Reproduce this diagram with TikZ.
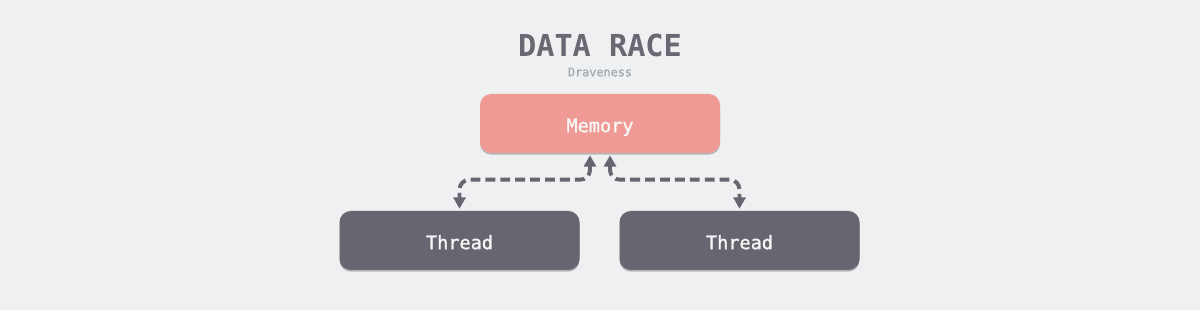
\documentclass[tikz,border=0pt]{standalone}
\usepackage{fontspec}
\setmonofont{DejaVu Sans Mono}
\newfontfamily\medmono{DejaVu Sans Mono}[FakeBold=1.3]
\usepackage{tikz}
\usetikzlibrary{arrows.meta,positioning,shadows}
\usepackage{xcolor}
\definecolor{bgray}{HTML}{EFF0F2}
\definecolor{memred}{HTML}{F09A96}
\definecolor{thrgray}{HTML}{686571}
\definecolor{titlegray}{HTML}{6A6872}
\definecolor{subgray}{HTML}{A3AAB0}
\definecolor{boxtext}{HTML}{F7F7F7}

\begin{document}
\begin{tikzpicture}[every node/.style={font=\ttfamily},
  box/.style={rounded corners=8pt, minimum width=6cm, minimum height=1.475cm,
    text=boxtext, font=\medmono\fontsize{13.2}{15}\selectfont,
    text height=12.3pt, text depth=0pt,
    drop shadow={shadow xshift=0pt, shadow yshift=-1.2pt, opacity=0.35, fill=black!70}},
  link/.style={thrgray, line width=2.8pt, dash pattern=on 7pt off 3.6pt,
    rounded corners=7pt, {Triangle[length=8pt,width=8.5pt]}-{Triangle[length=8pt,width=8.5pt]}}]
  \def\W{30}
  \def\H{7.75}

  % BACKGROUND
  \fill[bgray] (0,0) rectangle (\W,\H);
  \useasboundingbox (0,0) rectangle (\W,\H);

  % TITLE
  \node[titlegray, font=\ttfamily\bfseries\fontsize{21.5}{24}\selectfont] (title) at (15, 6.6) {DATA RACE};
  \node[subgray, font=\medmono\fontsize{8.4}{10}\selectfont] (author) at (15, 5.95) {Draveness};

  % BOXES
  \node[box, fill=memred] (mem) at (15, 4.6625) {Memory};
  \node[box, fill=thrgray] (t1) at (11.4875, 1.7375) {Thread};
  \node[box, fill=thrgray] (t2) at (18.4875, 1.7375) {Thread};

  % ACCESS ARROWS
  \draw[link] ([xshift=-0.25cm, yshift=-0.05cm]mem.south) |- ([yshift=0.775cm]t1.north) -- ([yshift=0.05cm]t1.north);
  \draw[link] ([xshift=0.25cm, yshift=-0.05cm]mem.south) |- ([yshift=0.775cm]t2.north) -- ([yshift=0.05cm]t2.north);
\end{tikzpicture}
\end{document}
